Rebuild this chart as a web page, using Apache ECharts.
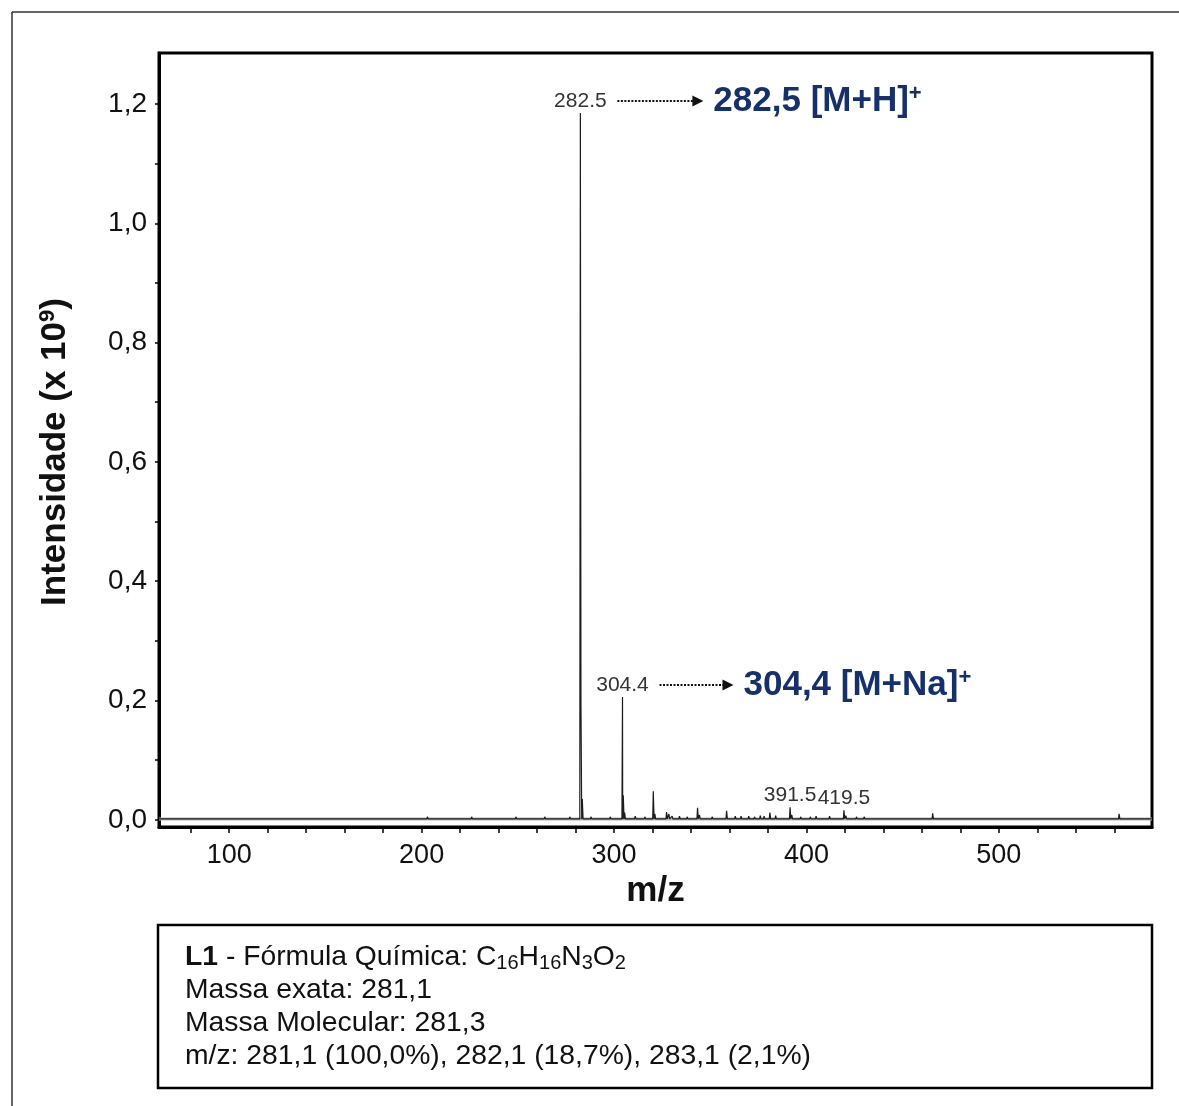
<!DOCTYPE html>
<html>
<head>
<meta charset="utf-8">
<script src="https://cdn.jsdelivr.net/npm/echarts@6/dist/echarts.min.js"></script>
<style>
  html, body { margin: 0; padding: 0; background: #fff; }
  #main { width: 1179px; height: 1106px; }
</style>
</head>
<body>
<div id="main"></div>
<script>
// ESI(+) mass spectrum of compound L1, intensities in units of 1e9

// Main peaks (m/z and intensity x 1e9)
const peakMz  = [282.5, 282.8, 283.5, 304.4, 304.8, 305.5, 320.4, 321.2, 327.3, 328.5, 330.2, 343.4, 344.4, 358.5, 363.0, 370.0, 376.0, 381.0, 384.0, 391.5, 392.4, 405.0, 412.0, 419.5, 420.5, 430.0, 465.6, 562.5];
const peakInt = [1.185, 0.196, 0.035, 0.206, 0.041, 0.012, 0.048, 0.010, 0.013, 0.010, 0.006, 0.020, 0.008, 0.015, 0.006, 0.006, 0.007, 0.012, 0.007, 0.021, 0.008, 0.006, 0.006, 0.016, 0.007, 0.005, 0.011, 0.010];

// Small baseline noise spikes
const noiseMz  = [71, 83, 97, 101, 112, 125, 129, 141, 146, 156, 165, 172, 180, 188, 195, 203, 211, 218, 226, 234, 241, 249, 257, 264, 271, 277, 288, 294, 298, 311, 316, 334, 338, 351, 366, 373, 378, 397, 402, 410, 426, 437, 447, 456, 476, 486, 497, 508, 519, 531, 542, 553, 571, 577];
const noiseInt = [0.003, 0.004, 0.003, 0.004, 0.003, 0.003, 0.004, 0.003, 0.004, 0.003,
                  0.004, 0.004, 0.003, 0.004, 0.004, 0.005, 0.004, 0.004, 0.005, 0.004,
                  0.004, 0.005, 0.004, 0.005, 0.004, 0.005, 0.005, 0.004, 0.005, 0.006,
                  0.005, 0.006, 0.005, 0.005, 0.006, 0.005, 0.006, 0.005, 0.005, 0.004,
                  0.005, 0.004, 0.004, 0.004, 0.004, 0.003, 0.004, 0.003, 0.004, 0.003,
                  0.004, 0.003, 0.004, 0.003];
const baseLevel = 0.0015;

// Axis ranges and ticks
const xMin = 63.5, xMax = 579.6;
const yMin = -0.0121, yMax = 1.2855;
const xTickValues  = [80, 100, 120, 140, 160, 180, 200, 220, 240, 260, 280, 300, 320, 340, 360, 380, 400, 420, 440, 460, 480, 500, 520, 540, 560];
const xLabelValues = [100, 200, 300, 400, 500];
const yTickValues  = [0, 0.1, 0.2, 0.3, 0.4, 0.5, 0.6, 0.7, 0.8, 0.9, 1.0, 1.1, 1.2];
const yLabelValues = [0, 0.2, 0.4, 0.6, 0.8, 1.0, 1.2];

// Peak tags and ion assignments
const taggedMz = [282.5, 304.4, 391.5, 419.5];
const ionMz    = [282.5, 304.4];
const ionName  = ['[M+H]', '[M+Na]'];

// Compound information box
const infoTitle   = 'L1';
const formulaParts = [['C', '16'], ['H', '16'], ['N', '3'], ['O', '2']];
const infoLines = ['Massa exata: 281,1', 'Massa Molecular: 281,3', 'm/z: 281,1 (100,0%), 282,1 (18,7%), 283,1 (2,1%)'];

const FONT = '"Liberation Sans", Arial, Helvetica, sans-serif';

// Build the profile trace: each stick rises from the baseline and returns to it
const events = [];
peakMz.forEach((m, i) => events.push([m, peakInt[i]]));
const nN = Math.min(noiseMz.length, noiseInt.length);
for (let i = 0; i < nN; i++) events.push([noiseMz[i], noiseInt[i]]);
events.sort((a, b) => a[0] - b[0]);

const profile = [[xMin, baseLevel]];
for (let i = 0; i < events.length; i++) {
  const [m, h] = events[i];
  const last = profile[profile.length - 1];
  if (m - 0.3 > last[0]) profile.push([m - 0.3, baseLevel]);
  profile.push([m, h]);
  const next = events[i + 1];
  if (!next || next[0] - 0.3 > m + 0.4) profile.push([m + 0.4, baseLevel]);
}
profile.push([xMax, baseLevel]);

const baseline = [[xMin, baseLevel], [xMax, baseLevel]];

function intensityAt(m) {
  const i = peakMz.indexOf(m);
  return i >= 0 ? peakInt[i] : 0;
}
const fmtComma = v => v.toFixed(1).replace('.', ',');

const chart = echarts.init(document.getElementById('main'), null, { renderer: 'canvas' });

chart.setOption({
  animation: false,
  backgroundColor: '#ffffff',
  textStyle: { fontFamily: FONT },
  grid: {
    left: 159, right: 27, top: 53, bottom: 279,
    show: true, borderColor: '#000', borderWidth: 3, backgroundColor: 'transparent'
  },
  xAxis: {
    type: 'value', min: xMin, max: xMax,
    axisLine: { onZero: false, lineStyle: { color: '#000', width: 3 } },
    axisTick: { customValues: xTickValues, length: 6, lineStyle: { color: '#000', width: 1.5 } },
    axisLabel: { customValues: xLabelValues, fontSize: 27, color: '#111', margin: 15, fontFamily: FONT },
    splitLine: { show: false },
    name: 'm/z', nameLocation: 'middle', nameGap: 47,
    nameTextStyle: { fontSize: 35, fontWeight: 'bold', color: '#111', fontFamily: FONT }
  },
  yAxis: {
    type: 'value', min: yMin, max: yMax,
    axisLine: { onZero: false, lineStyle: { color: '#000', width: 3 } },
    axisTick: { customValues: yTickValues, length: 4, lineStyle: { color: '#000', width: 1.5 } },
    axisLabel: { customValues: yLabelValues, fontSize: 28, color: '#111', margin: 12, fontFamily: FONT,
                 padding: [4, 0, 0, 0], formatter: v => fmtComma(v) },
    splitLine: { show: false }
  },
  series: [
    { type: 'line', data: baseline, symbol: 'none', silent: true, z: 1,
      lineStyle: { color: '#b3b3b3', width: 3 } },
    { type: 'line', data: profile, symbol: 'none', z: 2,
      lineStyle: { color: '#1c1c1c', width: 1.2 } }
  ]
});

// Annotations, positioned from the data through the chart's coordinate system
const px = (m, h) => chart.convertToPixel({ xAxisIndex: 0, yAxisIndex: 0 }, [m, h]);
const graphics = [];

// outer figure frame
graphics.push({ type: 'line', shape: { x1: 12, y1: 12, x2: 1179, y2: 12 }, style: { stroke: '#333', lineWidth: 1.5 } });
graphics.push({ type: 'line', shape: { x1: 12, y1: 12, x2: 12, y2: 1106 }, style: { stroke: '#333', lineWidth: 1.5 } });

// y-axis title with superscript
graphics.push({
  type: 'text', x: 55, y: 452, rotation: Math.PI / 2,
  style: {
    text: '{t|Intensidade (x 10}{s|9}{t|)}',
    align: 'center', verticalAlign: 'middle',
    rich: {
      t: { fontSize: 35, fontWeight: 'bold', fill: '#111', fontFamily: FONT, lineHeight: 36 },
      s: { fontSize: 22, fontWeight: 'bold', fill: '#111', fontFamily: FONT, verticalAlign: 'top', lineHeight: 21 }
    }
  }
});

// value tags above peaks
taggedMz.forEach(m => {
  const p = px(m, intensityAt(m));
  graphics.push({
    type: 'text', x: p[0], y: p[1] - 12,
    style: { text: m.toFixed(1), fontSize: 21, fill: '#333', fontFamily: FONT, align: 'center', verticalAlign: 'middle' }
  });
});

// dotted arrows to ion assignments
const arrowLen = [86, 74];
ionMz.forEach((m, i) => {
  const p = px(m, intensityAt(m));
  const y = p[1] - 12;
  const x0 = p[0] + 37;
  const x1 = x0 + arrowLen[i];
  graphics.push({ type: 'line', shape: { x1: x0, y1: y, x2: x1 - 9, y2: y },
                  style: { stroke: '#111', lineWidth: 2, lineDash: [2, 1.5] } });
  graphics.push({ type: 'polygon', shape: { points: [[x1 - 11, y - 5.5], [x1, y], [x1 - 11, y + 5.5]] },
                  style: { fill: '#111' } });
  graphics.push({
    type: 'text', x: x1 + 10, y: y,
    style: {
      text: '{b|' + fmtComma(m) + ' ' + ionName[i] + '}{p|+}',
      align: 'left', verticalAlign: 'middle',
      rich: {
        b: { fontSize: 35, fontWeight: 'bold', fill: '#16306a', fontFamily: FONT, lineHeight: 36 },
        p: { fontSize: 22, fontWeight: 'bold', fill: '#16306a', fontFamily: FONT, verticalAlign: 'top', lineHeight: 20 }
      }
    }
  });
});

// compound information box
graphics.push({ type: 'rect', shape: { x: 158, y: 925, width: 994, height: 163 },
                style: { fill: '#fff', stroke: '#000', lineWidth: 2.5 } });
let formulaRich = '{b|' + infoTitle + '}{n| - Fórmula Química: ';
formulaParts.forEach((pt, i) => {
  formulaRich += (i === 0 ? '' : '{n|') + pt[0] + '}{sub|' + pt[1] + '}';
});
const boxRich = {
  b:   { fontSize: 28.3, fontWeight: 'bold', fill: '#111', fontFamily: FONT, lineHeight: 32 },
  n:   { fontSize: 28.3, fill: '#111', fontFamily: FONT, lineHeight: 32 },
  sub: { fontSize: 20, fill: '#111', fontFamily: FONT, verticalAlign: 'bottom', lineHeight: 16 }
};
graphics.push({ type: 'text', x: 185, y: 957,
                style: { text: formulaRich, align: 'left', verticalAlign: 'middle', rich: boxRich } });
infoLines.forEach((line, i) => {
  graphics.push({ type: 'text', x: 185, y: 990 + i * 33,
                  style: { text: line, fontSize: 28.3, fill: '#111', fontFamily: FONT, align: 'left', verticalAlign: 'middle' } });
});

chart.setOption({ graphic: graphics });
</script>
</body>
</html>
